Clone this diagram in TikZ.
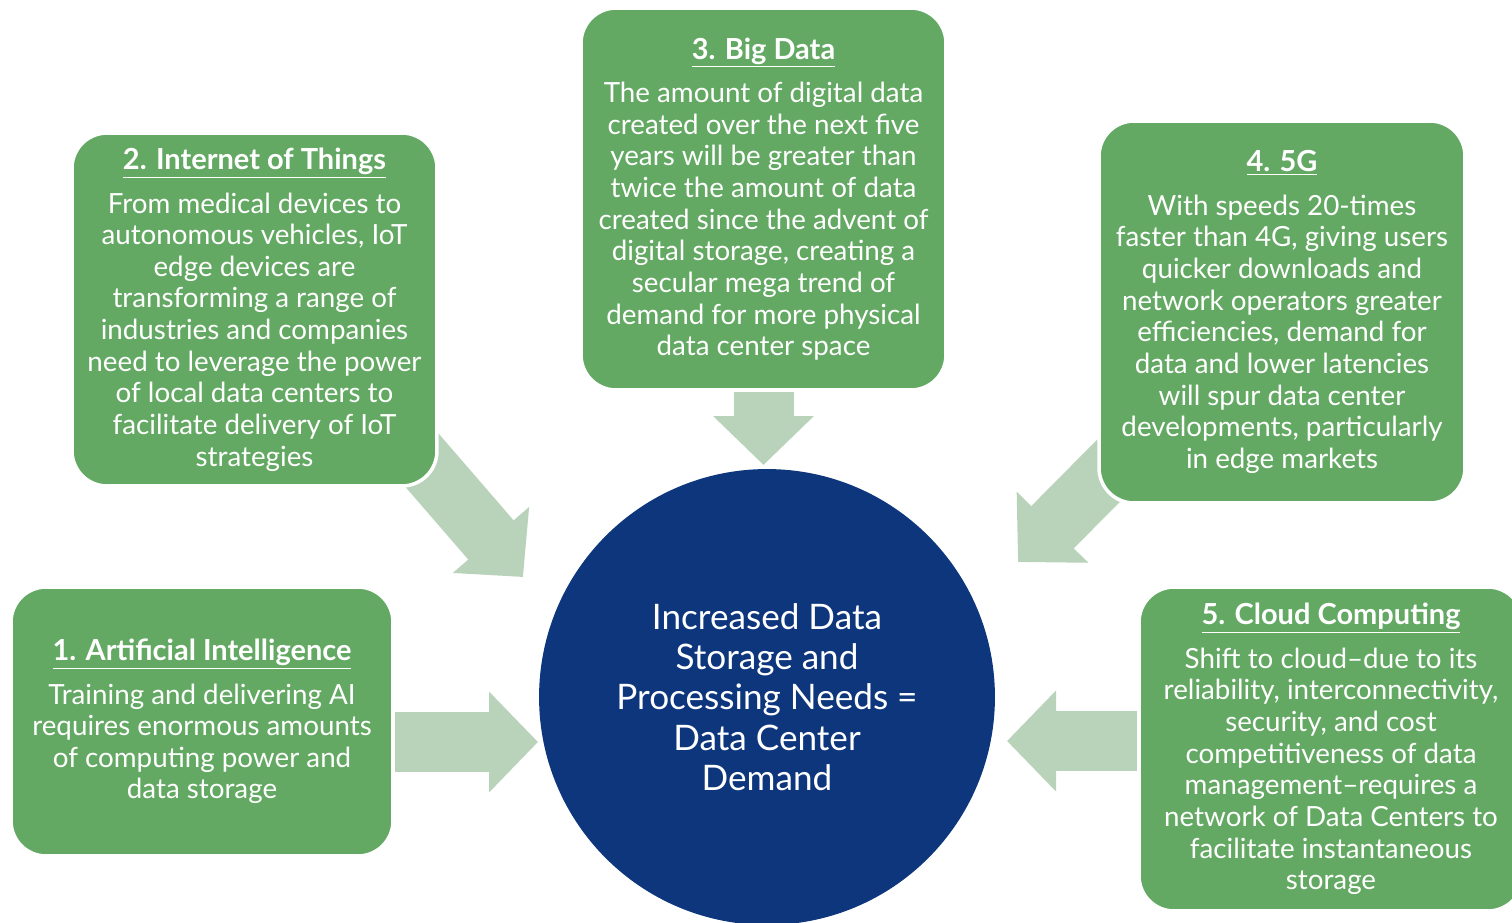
\documentclass[tikz,border=0pt]{standalone}
\usepackage{fontspec}
\setmainfont{Lato}
\usetikzlibrary{arrows.meta,backgrounds}

\definecolor{boxgreen}{RGB}{99,169,99}
\definecolor{arrowgreen}{RGB}{184,211,185}
\definecolor{navy}{RGB}{13,54,125}

\tikzset{ > = {Triangle[length=0.98cm, width=1.96cm]} }
\newcommand{\cardtitle}[1]{{\fontsize{16.5}{18}\selectfont\underline{\textbf{#1}}}}

\begin{document}
\begin{tikzpicture}
  [
    x = 0.02cm, y = -0.02cm,
    every node/.style = { font = \fontsize{15.8}{18}\selectfont, text = white, align = center },
    card/.style = { draw = white, line width = 2pt, fill = boxgreen, rounded corners = 0.7cm, inner sep = 0pt },
    bigarrow/.style = { ->, draw = arrowgreen, line width = 1.2cm }
  ]
    \useasboundingbox (0,0) rectangle (1512,923);
    \clip (0,0) rectangle (1512,923);

    \node (demand) [circle, fill = navy, minimum size = 9.12cm, font = \fontsize{20}{22.9}\selectfont] at (767,697)
      {Increased Data\\ Storage and\\ Processing Needs =\\ Data Center\\ Demand};

    \node (ai) [card, minimum width = 7.64cm, minimum height = 5.38cm] at (202,721.5)
      {\cardtitle{1. Artificial Intelligence}\\[6.8pt]
       Training and delivering AI\\ requires enormous amounts\\ of computing power and\\ data storage};
    \node (iot) [card, minimum width = 7.3cm, minimum height = 7.06cm] at (254.5,309.5)
      {\cardtitle{2. Internet of Things}\\[6.8pt]
       From medical devices to\\ autonomous vehicles, IoT\\ edge devices are\\ transforming a range of\\
       industries and companies\\ need to leverage the power\\ of local data centers to\\
       facilitate delivery of IoT\\ strategies};
    \node (bigdata) [card, minimum width = 7.3cm, minimum height = 7.64cm] at (763.5,199)
      {\cardtitle{3. Big Data}\\[6.8pt]
       The amount of digital data\\ created over the next five\\ years will be greater than\\
       twice the amount of data\\ created since the advent of\\ digital storage, creating a\\
       secular mega trend of\\ demand for more physical\\ data center space};
    \node (fiveg) [card, minimum width = 7.32cm, minimum height = 7.64cm] at (1282,312)
      {\cardtitle{4. 5G}\\[6.8pt]
       With speeds 20-times\\ faster than 4G, giving users\\ quicker downloads and\\
       network operators greater\\ efficiencies, demand for\\ data and lower latencies\\
       will spur data center\\ developments, particularly\\ in edge markets};
    \node (cloud) [card, minimum width = 7.68cm, minimum height = 6.48cm] at (1331,749)
      {\cardtitle{5. Cloud Computing}\\[6.8pt]
       Shift to cloud–due to its\\ reliability, interconnectivity,\\ security, and cost\\
       competitiveness of data\\ management–requires a\\ network of Data Centers to\\
       facilitate instantaneous\\ storage};

    \coordinate (aiTip) at (538,742);
    \coordinate (iotTip) at (523,577);
    \coordinate (dataTip) at (763.5,465);
    \coordinate (fivegTip) at (1018,562);
    \coordinate (cloudTip) at (1007,741);

    \begin{scope}[on background layer]
      \draw [bigarrow] (ai.east |- aiTip) -- (aiTip);
      \draw [bigarrow] ([shift={(-31,-44)}]iot.south east) -- (iotTip);
      \draw [bigarrow] (bigdata.south) -- (dataTip);
      \draw [bigarrow] ([shift={(45,-68)}]fiveg.south west) -- (fivegTip);
      \draw [bigarrow] (cloud.west |- cloudTip) -- (cloudTip);
    \end{scope}
\end{tikzpicture}
\end{document}
